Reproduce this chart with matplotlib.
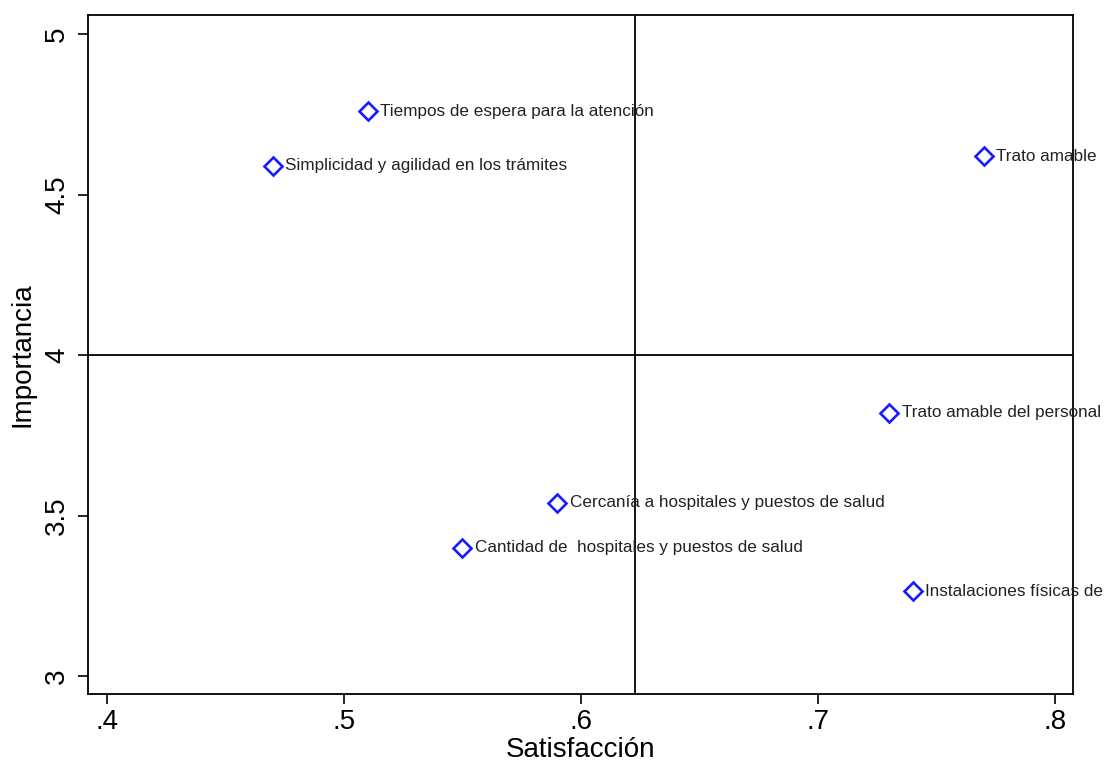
import numpy as np
import matplotlib
matplotlib.use("Agg")
import matplotlib.pyplot as plt

plt.rcParams['font.family'] = ['Liberation Sans', 'DejaVu Sans']

# atributos: satisfaccion (x) e importancia (y)
# (las etiquetas largas se ven cortadas en el borde de la figura original)
labels = ["Tiempos de espera para la atención",
          "Simplicidad y agilidad en los trámites",
          "Trato amable",
          "Trato amable del personal",
          "Cercanía a hospitales y puestos de salud",
          "Cantidad de  hospitales y puestos de salud",
          "Instalaciones físicas de"]
satisfaccion = [0.51, 0.47, 0.77, 0.73, 0.59, 0.55, 0.74]
importancia = [4.76, 4.59, 4.62, 3.82, 3.54, 3.40, 3.265]

xticks = [0.4, 0.5, 0.6, 0.7, 0.8]
xticklabels = [".4", ".5", ".6", ".7", ".8"]
yticks = [3, 3.5, 4, 4.5, 5]
yticklabels = ["3", "3.5", "4", "4.5", "5"]

fig = plt.figure(figsize=(11.04, 7.63), dpi=100)
ax = fig.add_axes([0.0797, 0.0904, 0.8923, 0.8896])

ax.plot(satisfaccion, importancia, linestyle='none', marker='D', markersize=9,
        markerfacecolor='none', markeredgecolor='#1a1aff', markeredgewidth=1.9)
for x, y, t in zip(satisfaccion, importancia, labels):
    ax.annotate(t, (x, y), xytext=(9, 0), textcoords='offset points',
                va='center', ha='left', fontsize=12.3, color='#222222',
                annotation_clip=False, clip_on=False)

# lineas de referencia en las medias
ax.axvline(np.mean(satisfaccion), color='black', lw=1.3)
ax.axhline(np.mean(importancia), color='black', lw=1.3)

ax.set_xlim(0.392, 0.8076)
ax.set_ylim(2.944, 5.059)
ax.set_xticks(xticks)
ax.set_xticklabels(xticklabels)
ax.set_yticks(yticks)
ax.set_yticklabels(yticklabels, rotation=90, va='center')
ax.tick_params(axis='both', labelsize=20, length=7, width=1.2, color='black')
ax.tick_params(axis='y', pad=6)
for s in ax.spines.values():
    s.set_linewidth(1.3)
ax.set_xlabel("Satisfacción", fontsize=20, labelpad=2)
ax.set_ylabel("Importancia", fontsize=20, labelpad=6)

fig.savefig("out.png", dpi=100)
